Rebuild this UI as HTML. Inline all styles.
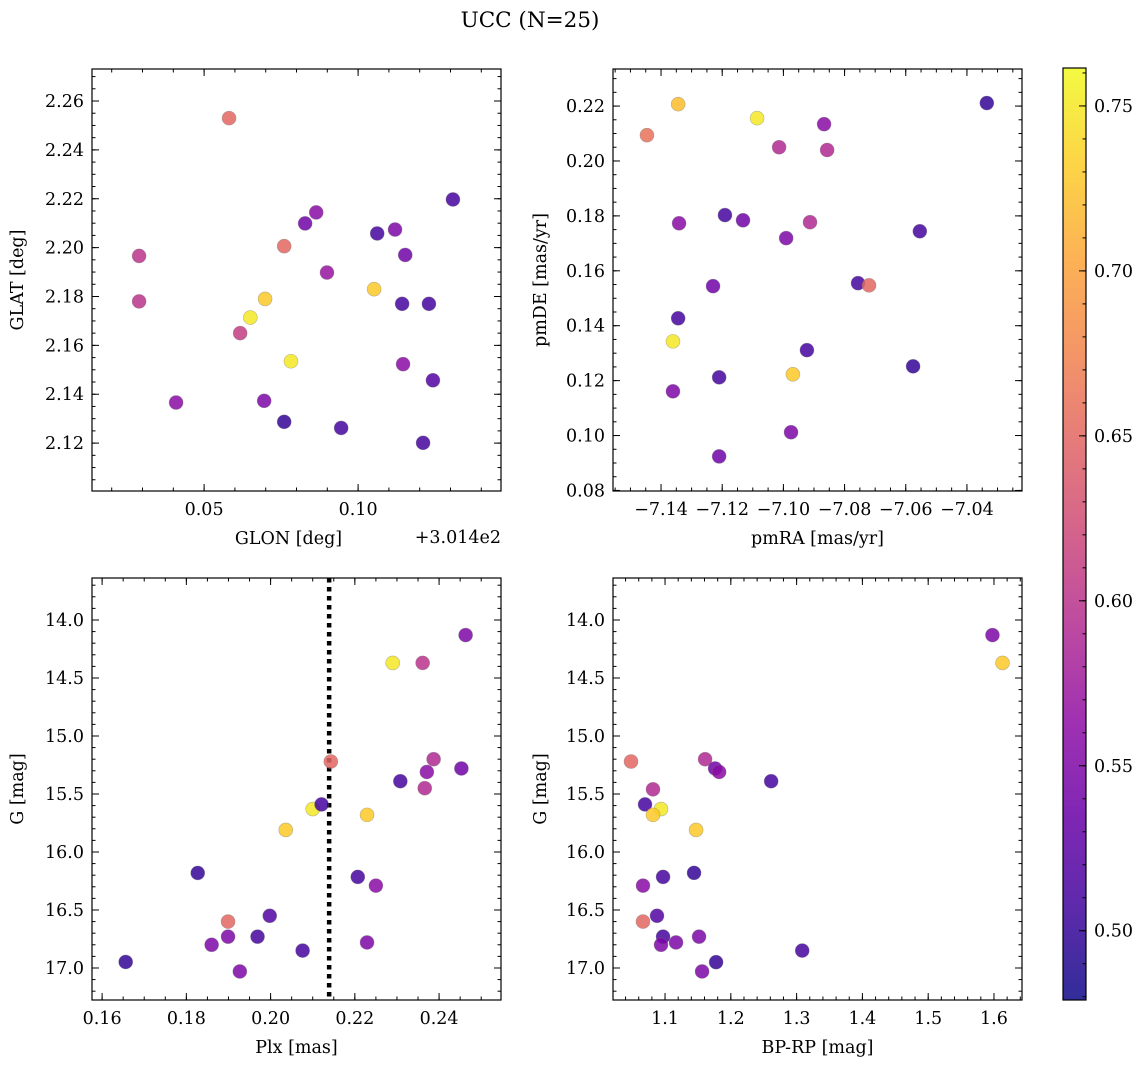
<!DOCTYPE html>
<html><head><meta charset="utf-8"><style>
body{margin:0;background:#fff;}
svg text{font-family:"DejaVu Serif","Liberation Serif",serif;fill:#000;}
</style></head><body>
<svg id="fig" width="1148" height="1068" xmlns="http://www.w3.org/2000/svg">
<text x="530" y="27" font-size="21.5" text-anchor="middle">UCC (N=25)</text>
</svg>
<script>
// Panel 1: GLON vs GLAT (offset +301.4)
const glonX=[0.0581,0.0289,0.0289,0.0409,0.0617,0.065,0.0698,0.076,0.0782,0.0695,0.076,0.0828,0.0864,0.0899,0.0945,0.1052,0.1062,0.112,0.1153,0.1143,0.123,0.1146,0.1243,0.1211,0.1308];
const glatY=[2.253,2.1966,2.178,2.1366,2.165,2.1714,2.179,2.2006,2.1535,2.1373,2.1287,2.2099,2.2144,2.1898,2.1262,2.183,2.2058,2.2074,2.197,2.177,2.177,2.1523,2.1457,2.1201,2.2197];
const glonC=[0.65,0.60,0.60,0.56,0.61,0.75,0.73,0.65,0.75,0.55,0.50,0.54,0.56,0.57,0.51,0.73,0.51,0.55,0.54,0.51,0.51,0.56,0.52,0.51,0.51];
// Panel 2: pmRA vs pmDE
const pmraX=[-7.1446,-7.1344,-7.1086,-7.1341,-7.1191,-7.1132,-7.1014,-7.0867,-7.0857,-7.0913,-7.0991,-7.123,-7.1344,-7.1361,-7.1361,-7.121,-7.121,-7.0969,-7.0975,-7.0923,-7.0756,-7.072,-7.0576,-7.0554,-7.0335];
const pmdeY=[0.2094,0.2207,0.2156,0.1773,0.1803,0.1784,0.205,0.2134,0.204,0.1777,0.1719,0.1544,0.1427,0.1343,0.1161,0.1212,0.0924,0.1223,0.1012,0.1311,0.1555,0.1547,0.1252,0.1744,0.2211];
const pmC=[0.66,0.72,0.75,0.56,0.51,0.54,0.59,0.56,0.59,0.59,0.55,0.54,0.51,0.75,0.55,0.51,0.54,0.73,0.55,0.51,0.51,0.65,0.50,0.51,0.50];
// Panel 3: Plx vs G
const plxX=[0.1656,0.1827,0.1899,0.186,0.1899,0.1927,0.1969,0.1998,0.2076,0.2036,0.21,0.2121,0.2143,0.2229,0.2207,0.225,0.2229,0.229,0.2361,0.2308,0.2371,0.2366,0.2387,0.2453,0.2463];
const plxG=[16.948,16.181,16.6,16.80,16.73,17.03,16.73,16.55,16.85,15.81,15.63,15.59,15.22,15.68,16.215,16.29,16.78,14.37,14.37,15.39,15.31,15.45,15.20,15.28,14.13];
const plxC=[0.50,0.50,0.65,0.55,0.55,0.55,0.51,0.52,0.51,0.73,0.75,0.51,0.65,0.73,0.51,0.56,0.55,0.75,0.60,0.51,0.56,0.59,0.59,0.54,0.55];
const plxLine=[0.2139];
// Panel 4: BP-RP vs G
const colX=[1.613,1.5977,1.0483,1.0817,1.0696,1.0939,1.0817,1.1609,1.1761,1.1822,1.2613,1.1472,1.097,1.1441,1.0665,1.0878,1.0665,1.097,1.0939,1.1167,1.1517,1.1563,1.1776,1.3085];
const colG=[14.37,14.13,15.22,15.46,15.59,15.63,15.68,15.20,15.28,15.31,15.39,15.81,16.215,16.18,16.29,16.55,16.60,16.73,16.80,16.78,16.73,17.03,16.95,16.85];
const colC=[0.73,0.55,0.65,0.59,0.51,0.75,0.73,0.59,0.54,0.56,0.51,0.73,0.51,0.50,0.56,0.52,0.65,0.51,0.55,0.55,0.55,0.55,0.50,0.51];
const cbTicks=[0.50,0.55,0.60,0.65,0.70,0.75];

const NS="http://www.w3.org/2000/svg";
const FS=17.5;
const svg=document.getElementById('fig');
function mk(tag,attrs,parent){const e=document.createElementNS(NS,tag);for(const k in attrs)e.setAttribute(k,attrs[k]);(parent||svg).appendChild(e);return e;}
const stops=['#0d0887','#41049d','#6a00a8','#8f0da4','#b12a90','#cc4778','#e16462','#f2844b','#fca636','#fcce25','#f0f921'];
function hex(h){return [1,3,5].map(i=>parseInt(h.substr(i,2),16));}
const CMIN=0.479,CMAX=0.7615;
function plasma(t){t=Math.max(0,Math.min(1,t));const f=t*10,i=Math.min(9,Math.floor(f)),r=f-i;const a=hex(stops[i]),b=hex(stops[i+1]);return 'rgb('+a.map((v,k)=>Math.round(v+(b[k]-v)*r)).join(',')+')';}
function cmap(c){return plasma((c-CMIN)/(CMAX-CMIN));}

function fmt(v,d){let s=v.toFixed(d);return s.replace('-','\u2212');}
function panel(o){
  const g=mk('g',{});
  
  
  const sx=v=>o.x0+(v-o.xmin)/(o.xmax-o.xmin)*(o.x1-o.x0);
  const sy=o.yinv?(v=>o.y0+(v-o.ymin)/(o.ymax-o.ymin)*(o.y1-o.y0)):(v=>o.y1-(v-o.ymin)/(o.ymax-o.ymin)*(o.y1-o.y0));
  if(o.vline){o.vline.forEach(v=>{const l=mk('line',{x1:sx(v),x2:sx(v),y1:o.y0,y2:o.y1,stroke:'#000','stroke-width':4.5,'stroke-dasharray':'4.5 4.5'},g);});}
  o.xs.forEach((xv,i)=>{const c=mk('circle',{cx:sx(xv),cy:sy(o.ys[i]),r:7,fill:cmap(o.cs[i]),'fill-opacity':0.85,stroke:'#777','stroke-opacity':0.5,'stroke-width':0.6},g);
    
    });
  const eps=1e-9;
  function ticksX(step,len){for(let v=Math.ceil(o.xmin/step-eps)*step;v<=o.xmax+eps;v+=step){const x=sx(v);mk('line',{x1:x,x2:x,y1:o.y1,y2:o.y1-len,stroke:'#000','stroke-width':1},g);mk('line',{x1:x,x2:x,y1:o.y0,y2:o.y0+len,stroke:'#000','stroke-width':1},g);}}
  function ticksY(step,len){for(let v=Math.ceil(o.ymin/step-eps)*step;v<=o.ymax+eps;v+=step){const y=sy(v);mk('line',{x1:o.x0,x2:o.x0+len,y1:y,y2:y,stroke:'#000','stroke-width':1},g);mk('line',{x1:o.x1,x2:o.x1-len,y1:y,y2:y,stroke:'#000','stroke-width':1},g);}}
  ticksX(o.xminor,3.5);ticksX(o.xmajor,7);ticksY(o.yminor,3.5);ticksY(o.ymajor,7);
  for(let v=Math.ceil(o.xmin/o.xmajor-eps)*o.xmajor;v<=o.xmax+eps;v+=o.xmajor){if(o.xskip&&o.xskip(v))continue;const t=mk('text',{x:sx(v),y:o.y1+24,'font-size':FS,'text-anchor':'middle'},g);t.textContent=fmt(v,o.xd);}
  for(let v=Math.ceil(o.ymin/o.ymajor-eps)*o.ymajor;v<=o.ymax+eps;v+=o.ymajor){const t=mk('text',{x:o.x0-8,y:sy(v)+6,'font-size':FS,'text-anchor':'end'},g);t.textContent=fmt(v,o.yd);}
  mk('rect',{x:o.x0,y:o.y0,width:o.x1-o.x0,height:o.y1-o.y0,fill:'none',stroke:'#000','stroke-width':1.2},g);
  const xl=mk('text',{x:(o.x0+o.x1)/2+(o.xlo||0),y:o.y1+53,'font-size':FS,'text-anchor':'middle'},g);xl.textContent=o.xlabel;
  const yl=mk('text',{x:0,y:0,'font-size':FS,'text-anchor':'middle',transform:'translate('+(o.ylx)+','+((o.y0+o.y1)/2)+') rotate(-90)'},g);yl.textContent=o.ylabel;
  if(o.offset){const t=mk('text',{x:o.x1,y:o.y1+52,'font-size':FS,'text-anchor':'end'},g);t.textContent=o.offset;}
}
panel({name:'glon-glat-panel',x0:92,x1:501,y0:69,y1:491,xmin:0.0136,xmax:0.1464,ymin:2.1004,ymax:2.2731,xmajor:0.05,xminor:0.01,ymajor:0.02,yminor:0.005,xd:2,yd:2,xs:glonX,ys:glatY,cs:glonC,xlabel:'GLON [deg]',ylabel:'GLAT [deg]',ylx:23,offset:'+3.014e2',xlo:-8,xskip:v=>Math.abs(v)<1e-6});
panel({name:'pm-panel',x0:613,x1:1022,y0:69,y1:491,xmin:-7.1557,xmax:-7.022,ymin:0.0798,ymax:0.2335,xmajor:0.02,xminor:0.005,ymajor:0.02,yminor:0.005,xd:2,yd:2,xs:pmraX,ys:pmdeY,cs:pmC,xlabel:'pmRA [mas/yr]',ylabel:'pmDE [mas/yr]',ylx:546});
panel({name:'plx-g-panel',x0:92,x1:501,y0:578,y1:1000,xmin:0.1576,xmax:0.2547,ymin:13.638,ymax:17.276,yinv:true,xmajor:0.02,xminor:0.005,ymajor:0.5,yminor:0.1,xd:2,yd:1,xs:plxX,ys:plxG,cs:plxC,vline:plxLine,xlabel:'Plx [mas]',ylabel:'G [mag]',ylx:23});
panel({name:'cmd-panel',x0:613,x1:1022,y0:578,y1:1000,xmin:1.0209,xmax:1.6426,ymin:13.638,ymax:17.276,yinv:true,xmajor:0.1,xminor:0.02,ymajor:0.5,yminor:0.1,xd:1,yd:1,xs:colX,ys:colG,cs:colC,xlabel:'BP-RP [mag]',ylabel:'G [mag]',ylx:546});
(function(){
  const g=mk('g',{});
  
  
  const x0=1063,x1=1086,y0=68,y1=1000;
  const defs=mk('defs',{},g);const lg=mk('linearGradient',{id:'cbg',x1:0,y1:1,x2:0,y2:0},defs);
  stops.forEach((s,i)=>mk('stop',{offset:i/10,'stop-color':s,'stop-opacity':0.85},lg));
  mk('rect',{x:x0,y:y0,width:x1-x0,height:y1-y0,fill:'url(#cbg)'},g);
  const sy=v=>y1-(v-CMIN)/(CMAX-CMIN)*(y1-y0);
  for(let v=0.48;v<=CMAX+1e-9;v+=0.01){const y=sy(v);mk('line',{x1:x1,x2:x1-3.5,y1:y,y2:y,stroke:'#000','stroke-width':1},g);}
  cbTicks.forEach(v=>{const y=sy(v);mk('line',{x1:x1,x2:x1-7,y1:y,y2:y,stroke:'#000','stroke-width':1},g);const t=mk('text',{x:x1+8,y:y+6,'font-size':FS},g);t.textContent=v.toFixed(2);});
  mk('rect',{x:x0,y:y0,width:x1-x0,height:y1-y0,fill:'none',stroke:'#000','stroke-width':1.2},g);
})();
</script>
</body></html>
